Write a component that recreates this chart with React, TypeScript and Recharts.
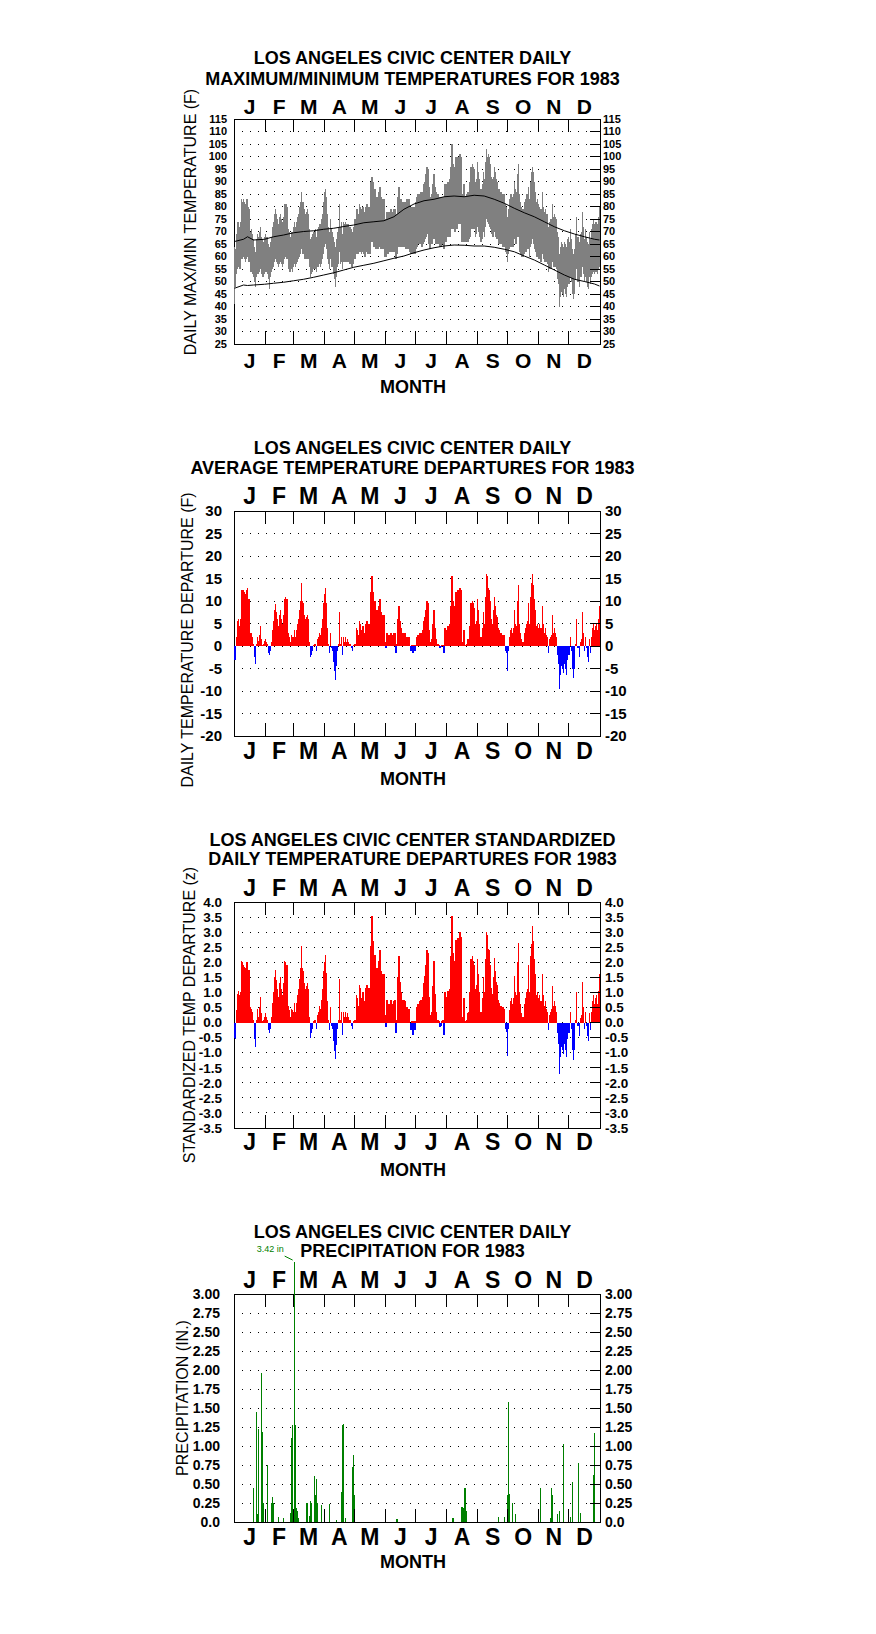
import React from 'react';
import {
  ComposedChart, Bar, Line, Cell, LabelList,
  XAxis, YAxis, CartesianGrid, ReferenceArea, ReferenceLine,
} from 'recharts';

const FONT = '"Liberation Sans", Arial, Helvetica, sans-serif';
const RED = '#ff0000';
const BLUE = '#0000ff';
const GRAY = '#808080';
const GREEN = '#008000';

const MONTHS = ['J', 'F', 'M', 'A', 'M', 'J', 'J', 'A', 'S', 'O', 'N', 'D'];
const MONTH_LENGTHS = [31, 28, 31, 30, 31, 30, 31, 31, 30, 31, 30, 31];

const TEMP_TICKS = [25, 30, 35, 40, 45, 50, 55, 60, 65, 70, 75, 80, 85, 90, 95, 100, 105, 110, 115];
const DEP_TICKS = [-20, -15, -10, -5, 0, 5, 10, 15, 20, 25, 30];
const Z_TICKS = [-3.5, -3, -2.5, -2, -1.5, -1, -0.5, 0, 0.5, 1, 1.5, 2, 2.5, 3, 3.5, 4];
const PRCP_TICKS = [0, 0.25, 0.5, 0.75, 1, 1.25, 1.5, 1.75, 2, 2.25, 2.5, 2.75, 3];

// daily maximum temperature (F), one row per month
const DAILY_MAX = [
  64, 63, 69, 74, 74, 72, 74, 83, 82, 83, 82, 81, 83, 83, 80, 79, 70, 71, 69, 67, 64, 62, 67, 69, 68, 70, 72, 68, 67, 66, 68,
  69, 68, 68, 65, 64, 66, 68, 72, 74, 77, 79, 77, 75, 73, 76, 77, 75, 74, 76, 81, 81, 81, 80, 71, 70, 68, 70, 70,
  72, 74, 72, 74, 76, 77, 80, 82, 86, 82, 82, 79, 77, 78, 79, 77, 71, 67, 68, 69, 70, 70, 71, 68, 71, 72, 73, 73, 75, 77, 82,
  86, 87, 84, 77, 72, 70, 75, 71, 70, 68, 66, 64, 67, 70, 72, 81, 72, 74, 69, 74, 73, 74, 73, 73, 73, 72, 72, 71, 70, 72,
  75, 75, 79, 79, 77, 81, 80, 79, 80, 78, 77, 80, 81, 79, 80, 79, 90, 92, 90, 84, 87, 83, 84, 84, 86, 88, 84, 83, 83, 83, 75,
  74, 78, 76, 78, 78, 79, 78, 78, 79, 79, 74, 77, 84, 88, 83, 83, 82, 81, 82, 82, 82, 83, 82, 83, 80, 79, 80, 78, 80, 79,
  82, 84, 85, 85, 85, 86, 84, 86, 89, 90, 93, 96, 95, 88, 84, 84, 85, 89, 93, 88, 86, 85, 85, 84, 83, 84, 84, 84, 82, 89, 89,
  89, 90, 89, 91, 96, 105, 97, 96, 94, 100, 95, 100, 100, 101, 100, 85, 85, 89, 84, 84, 85, 86, 86, 90, 96, 97, 96, 95, 90, 91, 98,
  94, 91, 87, 87, 89, 94, 91, 98, 103, 100, 101, 100, 97, 92, 91, 92, 96, 94, 91, 90, 87, 87, 86, 86, 85, 85, 85, 81, 80, 76,
  79, 83, 85, 85, 84, 85, 90, 87, 86, 93, 97, 85, 82, 80, 79, 79, 82, 83, 85, 85, 88, 83, 90, 94, 96, 94, 90, 86, 82, 83, 81,
  80, 79, 79, 86, 80, 78, 79, 77, 77, 72, 74, 75, 75, 81, 76, 77, 76, 75, 70, 68, 61, 64, 66, 65, 64, 66, 65, 64, 67, 68,
  66, 71, 67, 63, 61, 63, 69, 76, 68, 68, 66, 69, 70, 78, 72, 67, 71, 68, 66, 65, 70, 67, 71, 73, 75, 73, 74, 74, 73, 76, 80,
];

// daily minimum temperature (F)
const DAILY_MIN = [
  41, 48, 53, 55, 56, 55, 55, 59, 59, 60, 59, 58, 59, 60, 58, 58, 54, 54, 53, 52, 50, 48, 52, 53, 53, 54, 55, 53, 52, 52, 53,
  54, 54, 53, 51, 47, 52, 54, 55, 56, 58, 59, 58, 57, 56, 57, 58, 57, 56, 57, 59, 60, 59, 59, 55, 54, 54, 55, 54,
  56, 57, 56, 57, 58, 59, 60, 61, 63, 61, 61, 59, 59, 59, 59, 59, 56, 52, 53, 54, 55, 55, 55, 54, 56, 56, 57, 56, 57, 59, 61,
  64, 65, 63, 59, 57, 55, 59, 56, 56, 53, 51, 48, 52, 56, 57, 62, 57, 58, 55, 58, 58, 58, 58, 58, 58, 57, 57, 56, 56, 57,
  59, 59, 61, 61, 61, 62, 62, 61, 62, 61, 60, 62, 62, 61, 62, 61, 66, 68, 66, 64, 65, 63, 64, 63, 64, 65, 63, 63, 63, 63, 60,
  60, 62, 61, 62, 62, 62, 62, 62, 62, 62, 59, 61, 64, 66, 64, 65, 64, 64, 64, 64, 63, 64, 63, 64, 62, 61, 63, 61, 63, 61,
  63, 64, 65, 65, 65, 65, 64, 65, 66, 67, 68, 69, 69, 65, 63, 65, 65, 67, 69, 67, 65, 65, 65, 65, 64, 64, 65, 65, 63, 67, 66,
  68, 68, 68, 68, 71, 75, 71, 71, 70, 73, 71, 73, 73, 73, 73, 66, 66, 68, 66, 66, 66, 66, 67, 68, 71, 71, 71, 71, 68, 69, 72,
  70, 68, 66, 66, 67, 70, 68, 72, 75, 74, 73, 72, 71, 69, 68, 68, 70, 68, 67, 67, 65, 65, 65, 65, 64, 64, 64, 62, 61, 58,
  61, 63, 64, 64, 64, 64, 67, 65, 65, 68, 68, 62, 61, 60, 60, 60, 61, 62, 62, 63, 63, 60, 64, 65, 67, 65, 63, 62, 60, 60, 59,
  59, 58, 58, 61, 59, 58, 58, 58, 57, 54, 55, 55, 55, 58, 56, 56, 56, 55, 51, 49, 40, 44, 46, 45, 44, 47, 45, 44, 48, 49,
  49, 52, 50, 45, 43, 45, 51, 55, 50, 50, 48, 52, 52, 56, 53, 50, 52, 50, 48, 47, 52, 49, 52, 53, 54, 53, 54, 54, 53, 55, 56,
];

// normal max / min, read about every ten days
const NORMAL_DAY = [1, 10, 14, 20, 31, 40, 50, 60, 70, 80, 90, 100, 110, 120, 130, 140, 150, 160, 170, 180, 190, 200, 210, 220, 230, 240, 250, 260, 270, 280, 290, 300, 310, 320, 330, 340, 350, 360, 365];
const NORMAL_MAX = [66, 66.9, 67.9, 66.6, 66.9, 67.9, 68.6, 69.5, 70, 70.3, 70.9, 71.3, 72, 72.6, 73.5, 73.9, 74.3, 75.9, 78.9, 81, 82.3, 82.9, 83.9, 84.2, 83.9, 84.5, 84.2, 82.9, 81.3, 79.3, 77.5, 75.9, 73.9, 71.9, 70.3, 69, 67.9, 66.9, 66.6];
const NORMAL_MIN = [47.3, 48.6, 48.4, 48.6, 48.9, 49.3, 49.7, 50.3, 50.9, 51.7, 52.6, 53.5, 54.6, 55.7, 56.5, 57.3, 58.3, 59.3, 60.2, 61.5, 62.6, 63.5, 64.2, 64.6, 64.5, 64.2, 64.2, 63.7, 62.9, 61.9, 60.2, 58.6, 56.6, 54.6, 52.6, 50.9, 50, 49, 48.2];

// daily average temperature departure (F)
const DEPARTURE = [
  -3, -3, 2, 5.5, 6, 4.5, 6, 12.5, 12.5, 12.5, 12, 11.5, 12.5, 13, 10.5, 10.5, 3, 3, 2, 0.5, -2.5, -4, 0.5, 2, 1.2, 2.5, 4.5, 1.5, 0.3, 0.5, 1.2,
  1.5, 1, 0.5, -1.5, -2, -1, 1, 3.5, 5.5, 8, 9.3, 7.5, 6, 4.5, 7, 8, 6, 5, 7, 10.5, 11, 10.5, 10.5, 3, 2, 1, 2.5, 2,
  2, 3.5, 2, 3.5, 5, 6, 8, 10, 14, 10, 9.5, 7, 6, 6.5, 7, 6, 1, -2.5, -2, -1, 0.3, 0.5, 0.5, -1.2, 1.5, 2, 3, 2.5, 4, 6, 9.5,
  11.5, 13, 9.5, 4, 0.5, -1.5, 3, -0.5, -1, -3.5, -5.5, -7.5, -4.5, -1, 0.5, 7.5, 0.5, 2, -2, 2, 1, 2, 1, 1.5, 1, 0.5, 0.5, -0.5, -1, 0.3,
  0.5, 0.5, 4, 3.5, 2.5, 5.5, 5, 3.5, 4.5, 3, 2, 5, 5.5, 3.5, 5, 3.5, 12, 15.5, 12, 8, 10, 7, 8, 7.5, 9, 10.5, 7.5, 7, 7, 7, 1,
  -0.5, 3, 1, 2.5, 2.5, 3, 2.5, 2.5, 3, 3, -1.5, 0.5, 6, 9, 5.5, 4, 3, 2.5, 3, 3, 1.5, 2, 1.5, 2, 0, -1, 0.3, -1.5, 0.3, -1,
  0.2, 2, 2.5, 2.5, 3, 3, 2, 3.5, 5.5, 6.5, 8, 10, 9.5, 3.5, 0.5, 1, 1.5, 5, 8, 4, 1.5, 0.5, 0.5, 0.3, -0.5, -0.3, 0.3, 0.3, -1.5, 4, 3.5,
  3.5, 4.5, 4, 5, 9, 15.5, 10, 9, 8, 12, 8.5, 12.5, 12, 13, 12.5, 1, 0.5, 3.5, 0.3, 0.3, 0.5, 1.5, 1.5, 4.5, 9.5, 10, 9.5, 8.5, 5, 5.5, 10.5,
  8, 5, 2, 2, 4, 7.5, 5, 11, 16, 15.5, 13, 12.5, 10, 6, 5, 8, 11, 9, 7, 6.5, 4, 3.5, 3, 3, 2.5, 2.5, 2.5, -1, -1.5, -5.5,
  -1, 2, 3.5, 4, 3, 4, 8, 5, 4.5, 10, 13.5, 5, 3, 1.5, 1, 1, 3, 4, 5, 5.5, 9.5, 5, 11, 14, 16, 13.5, 10.5, 8, 4.5, 5, 4,
  5, 4, 4, 9, 5, 3, 4, 2.5, 2, -1.5, 1.5, 2, 2.5, 7, 3, 4, 3, 2, -2, -4, -9.5, -6.5, -4.5, -5, -6, -4, -5, -6.5, -3, -2,
  -2, 2, -1, -5, -7, -5, 0.5, 6, -0.5, -0.5, -2.5, 1, 1.5, 7.5, 3, -1, 2, -0.5, -2.5, -3.5, 1.5, -1.5, 2, 4, 5, 3.5, 4.5, 5, 3.5, 6, 9,
];

// standardized daily departure (z)
const Z_DEPARTURE = [
  -0.5, -0.55, 0.4, 0.95, 1.05, 0.9, 1.0, 2.05, 2.0, 1.9, 1.85, 1.8, 2.0, 2.0, 1.75, 1.75, 0.5, 0.45, 0.35, 0.1, -0.55, -0.8, 0.1, 0.45, 0.2, 0.5, 0.85, 0.3, 0.05, 0.1, 0.2,
  0.3, 0.2, 0.1, -0.25, -0.35, -0.2, 0.2, 0.65, 1.0, 1.5, 1.75, 1.4, 1.1, 0.85, 1.3, 1.5, 1.1, 0.9, 1.3, 2.05, 2.0, 1.9, 1.9, 0.55, 0.4, 0.2, 0.45, 0.4,
  0.35, 0.65, 0.35, 0.65, 0.9, 1.1, 1.45, 1.8, 2.55, 1.8, 1.7, 1.3, 1.1, 1.2, 1.3, 1.1, 0.2, -0.5, -0.35, -0.2, 0.05, 0.1, 0.1, -0.2, 0.25, 0.35, 0.55, 0.45, 0.75, 1.1, 1.7,
  2.0, 2.25, 1.65, 0.7, 0.1, -0.25, 0.5, -0.1, -0.2, -0.6, -0.95, -1.2, -0.75, -0.2, 0.1, 1.45, 0.1, 0.35, -0.4, 0.35, 0.2, 0.35, 0.2, 0.3, 0.2, 0.1, 0.1, -0.1, -0.2, 0.05,
  0.1, 0.1, 0.9, 0.8, 0.55, 1.25, 1.15, 0.8, 1.0, 0.7, 0.45, 1.15, 1.25, 0.8, 1.15, 0.8, 2.55, 3.55, 2.7, 1.8, 2.25, 1.6, 1.8, 1.7, 2.05, 2.4, 1.7, 1.6, 1.6, 1.6, 0.25,
  -0.15, 0.75, 0.25, 0.6, 0.6, 0.75, 0.6, 0.6, 0.7, 0.75, -0.35, 0.1, 1.5, 2.2, 1.35, 1.0, 0.75, 0.6, 0.75, 0.7, 0.35, 0.5, 0.35, 0.45, 0.0, -0.25, 0.05, -0.4, 0.05, -0.25,
  0.05, 0.5, 0.6, 0.6, 0.7, 0.75, 0.5, 0.85, 1.3, 1.55, 1.9, 2.4, 2.3, 0.85, 0.1, 0.25, 0.35, 1.2, 2.05, 0.95, 0.35, 0.1, 0.1, 0.05, -0.15, -0.1, 0.05, 0.1, -0.4, 1.0, 0.85,
  0.8, 1.05, 0.95, 1.1, 2.2, 3.55, 2.3, 2.05, 1.85, 2.75, 1.95, 2.8, 2.75, 3.0, 2.85, 0.2, 0.1, 0.8, 0.05, 0.05, 0.1, 0.3, 0.35, 1.0, 2.1, 2.2, 2.05, 1.9, 1.1, 1.25, 2.1,
  1.6, 1.0, 0.35, 0.35, 0.8, 1.5, 1.0, 2.1, 3.0, 2.9, 2.45, 2.4, 1.9, 1.15, 0.95, 1.5, 2.15, 1.7, 1.35, 1.25, 0.75, 0.65, 0.55, 0.55, 0.5, 0.5, 0.45, -0.2, -0.3, -1.1,
  -0.2, 0.4, 0.7, 0.8, 0.6, 0.8, 1.55, 1.0, 0.9, 2.0, 2.65, 1.0, 0.6, 0.3, 0.2, 0.2, 0.6, 0.8, 1.0, 1.1, 1.9, 1.0, 2.2, 2.6, 3.2, 2.7, 2.1, 1.6, 0.9, 1.0, 0.8,
  0.9, 0.7, 0.7, 1.6, 0.9, 0.55, 0.7, 0.45, 0.35, -0.25, 0.25, 0.35, 0.45, 1.2, 0.55, 0.7, 0.55, 0.35, -0.35, -0.7, -1.7, -1.15, -0.8, -0.9, -1.05, -0.7, -0.9, -1.15, -0.55, -0.35,
  -0.35, 0.35, -0.2, -0.9, -1.25, -0.9, 0.1, 1.0, -0.1, -0.1, -0.45, 0.15, 0.25, 1.35, 0.5, -0.2, 0.35, -0.1, -0.45, -0.6, 0.3, -0.25, 0.35, 0.7, 0.9, 0.6, 0.8, 0.9, 0.6, 1.05, 1.6,
];

// wet days (day of year) and daily precipitation (in.)
const PRCP_DAY = [20, 23, 24, 25, 28, 29, 30, 34, 38, 39, 40, 45, 50, 57, 58, 59, 61, 62, 63, 64, 65, 73, 74, 76, 77, 78, 81, 82, 83, 84, 88, 96, 103, 108, 109, 110, 112, 119, 120, 121, 163, 219, 228, 230, 231, 232, 264, 270, 273, 274, 275, 278, 281, 306, 316, 317, 318, 323, 325, 329, 336, 338, 344, 346, 359, 360];
const PRCP_IN = [0.45, 1.45, 0.1, 1.22, 1.96, 1.18, 0.25, 0.75, 0.25, 0.33, 0.25, 0.06, 0.05, 0.12, 1.1, 1.27, 3.42, 1.27, 0.18, 0.15, 0.05, 0.25, 0.25, 0.08, 0.27, 0.25, 0.6, 0.35, 0.57, 0.25, 0.22, 0.24, 0.03, 0.4, 1.27, 1.29, 0.05, 0.73, 0.88, 0.36, 0.04, 0.05, 0.2, 0.18, 0.45, 0.15, 0.07, 0.07, 0.35, 1.58, 0.37, 0.25, 0.1, 0.45, 0.05, 0.45, 0.35, 0.1, 0.15, 1.02, 0.06, 0.52, 0.78, 0.12, 0.62, 1.17];

const MONTH_START = MONTH_LENGTHS.reduce((acc, n) => [...acc, acc[acc.length - 1] + n], [0]);
const MONTH_EDGES = MONTH_START.slice(1, 12);
const MONTH_MID = MONTHS.map((_, i) => (MONTH_START[i] + MONTH_START[i + 1]) / 2);

const dailyRows = DAILY_MAX.map((hi, i) => ({
  day: i + 0.5,
  range: [DAILY_MIN[i], hi],
  dep: DEPARTURE[i],
  z: Z_DEPARTURE[i],
}));
const normalRows = NORMAL_DAY.map((d, i) => ({ day: d - 0.5, nmax: NORMAL_MAX[i], nmin: NORMAL_MIN[i] }));
const wetRows = PRCP_DAY.map((d, i) => ({ day: d - 0.5, prcp: PRCP_IN[i] }));
const PRCP_MAX = Math.max(...PRCP_IN);

const W = 876;
const PLOT_LEFT = 234;
const PLOT_RIGHT = 600;
const FRAME_TOP = 119;
const AXIS_H = 30;
const LEFT_W = 60;
const RIGHT_W = 40;
const DIV_TICK = 13;

// thin daily bar, a bit wider than the band so days touch
const DayBar = (props: any) => {
  const { x, y, width, height, fill } = props;
  if (x == null || y == null || !height) return null;
  const top = height < 0 ? y + height : y;
  const h = Math.max(Math.abs(height), 0.6);
  const w = 1.3;
  return <rect x={x + width / 2 - w / 2} y={top} width={w} height={h} fill={fill} />;
};

const BigRainLabel = (props: any) => {
  const vb = props.viewBox || props;
  const value = props.value;
  if (value == null || value <= 3) return null;
  const cx = vb.x + vb.width / 2;
  const y = vb.y;
  return (
    <g>
      <text x={cx - 11} y={y - 10} textAnchor="end" fontSize={9} fill={GREEN} fontFamily={FONT}>{`${value} in`}</text>
      <line x1={cx - 10} y1={y - 6} x2={cx - 2} y2={y - 2} stroke={GREEN} strokeWidth={1} />
    </g>
  );
};

type PanelProps = {
  top: number;
  height: number;
  data: any[];
  valueKey: string;
  frameH: number;
  yMin: number;
  yMax: number;
  yTop?: number;
  ticks: number[];
  fmt: (v: number) => string;
  tickFont: number;
  leftGap: number;
  rightGap: number;
  letterFont: number;
  topGap: number;
  bottomGap: number;
  children?: React.ReactNode;
};

function Panel(p: PanelProps) {
  const yTop = p.yTop ?? p.yMax;
  const pxPerUnit = p.frameH / (p.yMax - p.yMin);
  const above = (yTop - p.yMax) * pxPerUnit;
  const plotTop = FRAME_TOP - above;
  const tickU = DIV_TICK / pxPerUnit;
  const tickStyle = { fontSize: p.tickFont, fontWeight: 700, fill: '#000', fontFamily: FONT };
  const letterStyle = { fontSize: p.letterFont, fontWeight: 700, fill: '#000', fontFamily: FONT };
  return (
    <div style={{ position: 'absolute', left: 0, top: p.top }}>
      <ComposedChart
        width={W}
        height={p.height}
        data={p.data}
        margin={{
          top: plotTop - AXIS_H,
          bottom: p.height - FRAME_TOP - p.frameH - AXIS_H,
          left: PLOT_LEFT - LEFT_W,
          right: W - PLOT_RIGHT - RIGHT_W,
        }}
      >
        <CartesianGrid horizontal vertical={false} syncWithTicks stroke="#000" strokeDasharray="1 7" />
        <XAxis
          dataKey="day" type="number" domain={[0, 365]} allowDataOverflow ticks={MONTH_MID} interval={0}
          tickFormatter={(_v: number, i: number) => MONTHS[i]}
          tickLine={false} axisLine={false} tickSize={0} tickMargin={p.bottomGap}
          height={AXIS_H} tick={letterStyle}
        />
        <XAxis
          xAxisId="top" orientation="top" dataKey="day" type="number" domain={[0, 365]} allowDataOverflow
          ticks={MONTH_MID} interval={0}
          tickFormatter={(_v: number, i: number) => MONTHS[i]}
          tickLine={false} axisLine={false} tickSize={0} tickMargin={p.topGap - above}
          height={AXIS_H} tick={letterStyle}
        />
        <YAxis
          type="number" domain={[p.yMin, yTop]} allowDataOverflow ticks={p.ticks} interval={0} tickFormatter={p.fmt}
          tickLine={false} axisLine={false} tickSize={0} tickMargin={p.leftGap}
          width={LEFT_W} tick={tickStyle}
        />
        <YAxis
          yAxisId="right" orientation="right" dataKey={p.valueKey} type="number" domain={[p.yMin, yTop]} allowDataOverflow
          ticks={p.ticks} interval={0}
          tickFormatter={p.fmt} tickLine={{ stroke: '#000' }} axisLine={false} tickSize={-10} tickMargin={10 + p.rightGap}
          width={RIGHT_W} tick={tickStyle}
        />
        <ReferenceArea x1={0} x2={365} y1={p.yMin} y2={p.yMax} fill="none" fillOpacity={0} stroke="#000" strokeWidth={1} />
        {MONTH_EDGES.map((b) => (
          <ReferenceLine key={`t${b}`} segment={[{ x: b, y: p.yMax }, { x: b, y: p.yMax - tickU }]} stroke="#000" />
        ))}
        {MONTH_EDGES.map((b) => (
          <ReferenceLine key={`b${b}`} segment={[{ x: b, y: p.yMin }, { x: b, y: p.yMin + tickU }]} stroke="#000" />
        ))}
        {p.children}
      </ComposedChart>
    </div>
  );
}

const Title = ({ capTop, lineH, lines }: { capTop: number; lineH: number; lines: string[] }) => (
  <div
    style={{
      position: 'absolute', left: 0, width: 825, top: capTop - (lineH / 2 - 0.3695 * 18),
      textAlign: 'center', fontFamily: FONT, fontWeight: 700, fontSize: 18, lineHeight: `${lineH}px`, color: '#000',
    }}
  >
    {lines.map((l) => <div key={l}>{l}</div>)}
  </div>
);

const VTitle = ({ x, y, text }: { x: number; y: number; text: string }) => (
  <div
    style={{
      position: 'absolute', left: x, top: y, transform: 'translate(-50%, -50%) rotate(-90deg)',
      whiteSpace: 'nowrap', fontFamily: FONT, fontSize: 16, lineHeight: '18px', color: '#000',
    }}
  >
    {text}
  </div>
);

const MonthLabel = ({ capTop }: { capTop: number }) => (
  <div
    style={{
      position: 'absolute', left: 0, width: 826, top: capTop - 2.35, textAlign: 'center',
      fontFamily: FONT, fontWeight: 700, fontSize: 18, lineHeight: '18px', color: '#000',
    }}
  >
    MONTH
  </div>
);

const fmtInt = (v: number) => String(v);
const fmtOne = (v: number) => v.toFixed(1);
const fmtPrcp = (v: number) => (v === 0 ? '0.0' : v.toFixed(2));

export default function App() {
  return (
    <div style={{ position: 'absolute', left: 0, top: 0, width: 876, height: 1634, background: '#fff', overflow: 'hidden' }}>
      <style>{`
        .recharts-cartesian-grid line, .recharts-reference-line line, .recharts-reference-area path,
        .recharts-cartesian-axis-tick-line { shape-rendering: crispEdges; }
        .recharts-bar-rectangle rect { shape-rendering: crispEdges; }
      `}</style>

      {/* chart 1: max/min */}
      <Title capTop={51.7} lineH={20.6} lines={['LOS ANGELES CIVIC CENTER DAILY', 'MAXIMUM/MINIMUM TEMPERATURES FOR 1983']} />
      <Panel top={0} height={392} data={dailyRows} valueKey="range" frameH={225} yMin={25} yMax={115} ticks={TEMP_TICKS} fmt={fmtInt}
        tickFont={11} leftGap={7} rightGap={3} letterFont={21} topGap={5} bottomGap={9}>
        <Bar dataKey="range" fill={GRAY} shape={<DayBar />} isAnimationActive={false} />
        <Line data={normalRows} dataKey="nmax" type="linear" stroke="#000" strokeWidth={1} dot={false} isAnimationActive={false} />
        <Line data={normalRows} dataKey="nmin" type="linear" stroke="#000" strokeWidth={1} dot={false} isAnimationActive={false} />
      </Panel>
      <VTitle x={191} y={221.5} text="DAILY MAX/MIN TEMPERATURE (F)" />
      <MonthLabel capTop={380.5} />

      {/* chart 2: departures */}
      <Title capTop={442.3} lineH={19.2} lines={['LOS ANGELES CIVIC CENTER DAILY', 'AVERAGE TEMPERATURE DEPARTURES FOR 1983']} />
      <Panel top={392} height={392} data={dailyRows} valueKey="dep" frameH={225} yMin={-20} yMax={30} ticks={DEP_TICKS} fmt={fmtInt}
        tickFont={15} leftGap={12} rightGap={5} letterFont={23} topGap={7} bottomGap={7}>
        <Bar dataKey="dep" shape={<DayBar />} isAnimationActive={false}>
          {dailyRows.map((r, i) => <Cell key={i} fill={r.dep >= 0 ? RED : BLUE} />)}
        </Bar>
      </Panel>
      <VTitle x={188} y={640} text="DAILY TEMPERATURE DEPARTURE (F)" />
      <MonthLabel capTop={772.5} />

      {/* chart 3: standardized departures */}
      <Title capTop={834.3} lineH={19} lines={['LOS ANGELES CIVIC CENTER STANDARDIZED', 'DAILY TEMPERATURE DEPARTURES FOR 1983']} />
      <Panel top={783} height={392} data={dailyRows} valueKey="z" frameH={226} yMin={-3.5} yMax={4} ticks={Z_TICKS} fmt={fmtOne}
        tickFont={13.5} leftGap={12} rightGap={5} letterFont={23} topGap={6} bottomGap={6}>
        <Bar dataKey="z" shape={<DayBar />} isAnimationActive={false}>
          {dailyRows.map((r, i) => <Cell key={i} fill={r.z >= 0 ? RED : BLUE} />)}
        </Bar>
      </Panel>
      <VTitle x={190} y={1015} text="STANDARDIZED TEMP DEPARTURE (z)" />
      <MonthLabel capTop={1163.5} />

      {/* chart 4: precipitation */}
      <Title capTop={1226} lineH={19} lines={['LOS ANGELES CIVIC CENTER DAILY', 'PRECIPITATION FOR 1983']} />
      <Panel top={1175} height={459} data={wetRows} valueKey="prcp" frameH={228} yMin={0} yMax={3} yTop={PRCP_MAX} ticks={PRCP_TICKS} fmt={fmtPrcp}
        tickFont={14} leftGap={14} rightGap={5} letterFont={23} topGap={6} bottomGap={7}>
        <Bar dataKey="prcp" fill={GREEN} shape={<DayBar />} isAnimationActive={false}>
          <LabelList dataKey="prcp" content={<BigRainLabel />} />
        </Bar>
      </Panel>
      <VTitle x={183} y={1398} text="PRECIPITATION (IN.)" />
      <MonthLabel capTop={1555.5} />
    </div>
  );
}
